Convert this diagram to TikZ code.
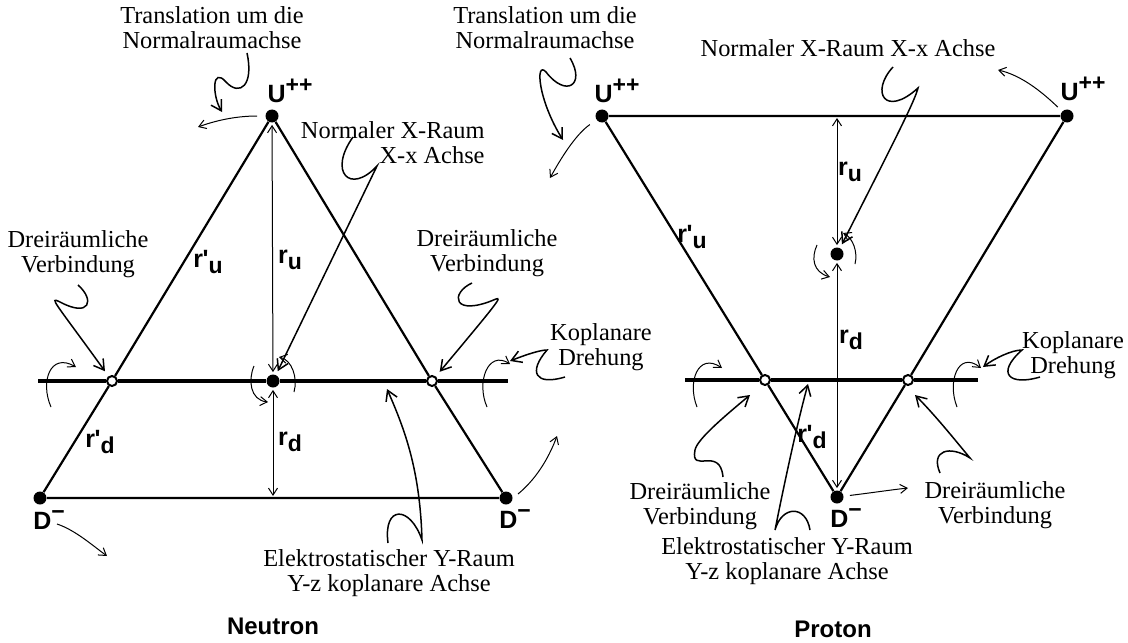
\documentclass[tikz,border=0pt]{standalone}
\usepackage{fontspec}
\setmainfont{Liberation Serif}
\setsansfont{Liberation Sans}
\usetikzlibrary{arrows.meta}

\newcommand{\quark}[2]{\textsf{\bfseries #1\raisebox{0.75ex}{\fontsize{11.5}{11.5}\selectfont #2}}}
\newcommand{\rlen}[2]{\textsf{\bfseries r#1\raisebox{-0.5ex}{\fontsize{11.5}{11.5}\selectfont #2}}}

\begin{document}
\begin{tikzpicture}[x=0.5pt,y=-0.5pt,
    dot/.style={circle,fill=black,inner sep=0pt,minimum size=6.5pt},
    hole/.style={circle,draw=black,fill=white,line width=1pt,inner sep=0pt,minimum size=5pt},
    side/.style={line width=1.1pt},
    axis/.style={line width=1.7pt},
    dist/.style={{Straight Barb[length=3.5pt,width=4.5pt]}-{Straight Barb[length=3.5pt,width=4.5pt]},line width=0.5pt,shorten <=1pt,shorten >=1pt},
    spin/.style={-{Straight Barb[length=3.5pt,width=4.5pt]},line width=0.5pt},
    wiggle/.style={-{Straight Barb[length=5pt,width=6pt]},line width=0.75pt},
    note/.style={font=\fontsize{12.2}{12.5}\selectfont,align=center,inner sep=0pt},
    tag/.style={font=\fontsize{12.5}{14}\sffamily\bfseries,inner sep=0pt},
    title/.style={font=\fontsize{12}{14}\sffamily\bfseries,inner sep=0pt}]

\useasboundingbox (0,0) rectangle (1128,642);

% Neutron
\node[dot] (nU) at (272,116) {};
\node[dot] (nDl) at (40,498) {};
\node[dot] (nDr) at (506,498) {};
\node[dot] (nC) at (273,381) {};
\node[hole] (nHl) at (112,381) {};
\node[hole] (nHr) at (432,381) {};
\coordinate (nAl) at (38,381);
\coordinate (nAr) at (508,381);
\coordinate (nB) at (273,498);

\draw[side] (nU) -- (nHl) -- (nDl) -- (nDr) -- (nHr) -- (nU);
\draw[axis] (nAl) -- (nHl) -- (nC) -- (nHr) -- (nAr);
\draw[dist] (nC) -- (nU);
\draw[dist] (nC) -- (nB);

\node[tag] (nUt) at (290,91) {\quark{U}{++}};
\node[tag] (nDlt) at (49,520) {\quark{D}{−}};
\node[tag] (nDrt) at (515,519) {\quark{D}{−}};
\node[tag] (nRu) at (290,260) {\rlen{}{u}};
\node[tag] (nRu2) at (208,262) {\rlen{\kern-0.02em\textquotesingle}{u}};
\node[tag] (nRd) at (290,442) {\rlen{}{d}};
\node[tag] (nRd2) at (100,442) {\rlen{\kern-0.02em\textquotesingle}{d}};

\node[note] (nTrans) at (212,28) {Translation um die\\Normalraumachse};
\node[note,align=right,anchor=east] (nNorm) at (485,143) {Normaler X-Raum\\X-x Achse};
\node[note] (nVerbL) at (78,254) {Dreiräumliche\\Verbindung};
\node[note] (nVerbR) at (487,253) {Dreiräumliche\\Verbindung};
\node[note] (nKopl) at (601,347) {Koplanare\\Drehung};
\node[note] (nElek) at (389,573) {Elektrostatischer Y-Raum\\Y-z koplanare Achse};
\node[title] (nName) at (273,626) {Neutron};

\coordinate (nTransA) at (247,53);
\coordinate (nTransB) at (222,112);
\coordinate (nNormA) at (353,137);
\coordinate (nVerbLA) at (78,285);
\coordinate (nVerbRA) at (472,283);
\coordinate (nKoplA) at (565,377);
\coordinate (nKoplB) at (510,361);
\coordinate (nElekA) at (388,543);
\coordinate (nElekB) at (387,389);
\draw[wiggle] (nTransA) .. controls (254,85) and (240,97) .. (226,82) .. controls (212,66) and (212,95) .. (nTransB);
\draw[wiggle,shorten >=2pt] (nNormA) .. controls (328,172) and (350,195) .. (377,166) -- (nC);
\draw[wiggle,shorten >=3pt] (nVerbLA) .. controls (95,300) and (90,318) .. (60,302) .. controls (48,296) and (55,302) .. (nHl);
\draw[wiggle,shorten >=3pt] (nVerbRA) .. controls (450,293) and (452,318) .. (496,299) .. controls (502,297) and (498,302) .. (nHr);
\draw[wiggle] (nKoplA) .. controls (535,386) and (528,372) .. (547,350) .. controls (540,350) and (525,355) .. (nKoplB);
\draw[wiggle] (nElekA) .. controls (383,505) and (410,505) .. (422,540) .. controls (420,470) and (405,430) .. (nElekB);

\coordinate (nUgo) at (198,127);
\coordinate (nDlA) at (57,524);
\coordinate (nDlB) at (107,556);
\coordinate (nDrA) at (518,494);
\coordinate (nDrB) at (557,436);
\draw[spin,shorten <=4pt] (nU) .. controls (240,116) and (220,119) .. (nUgo);
\draw[spin] (nDlA) .. controls (75,530) and (92,545) .. (nDlB);
\draw[spin] (nDrA) .. controls (535,480) and (548,460) .. (nDrB);

\draw[spin] (51,407) .. controls (40,382) and (50,352) .. (76,367);
\draw[spin] (487,407) .. controls (476,382) and (488,350) .. (510,364);
\draw[spin] (254,366) .. controls (248,380) and (250,400) .. (268,402);
\draw[spin] (294,392) .. controls (298,378) and (292,360) .. (279,357);

% Proton
\node[dot] (pUl) at (602,116) {};
\node[dot] (pUr) at (1067,116) {};
\node[dot] (pD) at (837,497) {};
\node[dot] (pC) at (837,254) {};
\node[hole] (pHl) at (765,380) {};
\node[hole] (pHr) at (908,380) {};
\coordinate (pAl) at (685,380);
\coordinate (pAr) at (978,380);
\coordinate (pT) at (837,116);

\draw[side] (pUl) -- (pUr) -- (pHr) -- (pD) -- (pHl) -- (pUl);
\draw[axis] (pAl) -- (pHl) -- (pHr) -- (pAr);
\draw[dist] (pC) -- (pT);
\draw[dist] (pC) -- (pD);

\node[tag] (pUlt) at (617,91) {\quark{U}{++}};
\node[tag] (pUrt) at (1083,89) {\quark{U}{++}};
\node[tag] (pDt) at (846,518) {\quark{D}{−}};
\node[tag] (pRu) at (850,172) {\rlen{}{u}};
\node[tag] (pRu2) at (692,237) {\rlen{\kern-0.02em\textquotesingle}{u}};
\node[tag] (pRd) at (851,340) {\rlen{}{d}};
\node[tag] (pRd2) at (812,437) {\rlen{\kern-0.02em\textquotesingle}{d}};

\node[note] (pTrans) at (545,28) {Translation um die\\Normalraumachse};
\node[note] (pNorm) at (848,48) {Normaler X-Raum X-x Achse};
\node[note] (pKopl) at (1073,355) {Koplanare\\Drehung};
\node[note] (pVerbL) at (700,506) {Dreiräumliche\\Verbindung};
\node[note] (pVerbR) at (995,505) {Dreiräumliche\\Verbindung};
\node[note] (pElek) at (787,561) {Elektrostatischer Y-Raum\\Y-z koplanare Achse};
\node[title] (pName) at (833,629) {Proton};

\coordinate (pTransA) at (570,58);
\coordinate (pTransB) at (563,140);
\coordinate (pNormA) at (893,67);
\coordinate (pKoplA) at (1040,377);
\coordinate (pKoplB) at (983,367);
\coordinate (pVerbLA) at (723,477);
\coordinate (pVerbLB) at (750,395);
\coordinate (pVerbRA) at (940,473);
\coordinate (pVerbRB) at (915,395);
\coordinate (pElekA) at (810,530);
\coordinate (pElekB) at (808,384);
\draw[wiggle] (pTransA) .. controls (586,85) and (566,98) .. (546,72) .. controls (535,60) and (538,100) .. (pTransB);
\draw[wiggle,shorten >=2pt] (pNormA) .. controls (870,92) and (885,118) .. (918,88) .. controls (915,100) and (900,130) .. (pC);
\draw[wiggle] (pKoplA) .. controls (1010,386) and (995,374) .. (1022,350) .. controls (1012,350) and (995,358) .. (pKoplB);
\draw[wiggle] (pVerbLA) .. controls (720,445) and (690,475) .. (695,450) .. controls (697,440) and (720,420) .. (pVerbLB);
\draw[wiggle] (pVerbRA) .. controls (930,450) and (950,445) .. (970,458) .. controls (955,440) and (935,415) .. (pVerbRB);
\draw[wiggle] (pElekA) .. controls (806,505) and (782,505) .. (775,530) .. controls (785,480) and (798,420) .. (pElekB);

\coordinate (pUlgo) at (550,178);
\coordinate (pUrgo) at (998,70);
\coordinate (pDgo) at (908,488);
\draw[spin,shorten <=4pt] (pUl) .. controls (575,135) and (560,160) .. (pUlgo);
\draw[spin,shorten <=3pt] (pUr) .. controls (1040,90) and (1020,75) .. (pUrgo);
\draw[spin,shorten <=3pt] (pD) .. controls (870,493) and (890,490) .. (pDgo);

\draw[spin] (697,407) .. controls (687,382) and (698,352) .. (722,368);
\draw[spin] (957,407) .. controls (947,382) and (958,350) .. (981,368);
\draw[spin] (817,245) .. controls (811,258) and (813,272) .. (830,277);
\draw[spin] (855,264) .. controls (858,252) and (853,238) .. (843,233);
\end{tikzpicture}
\end{document}
